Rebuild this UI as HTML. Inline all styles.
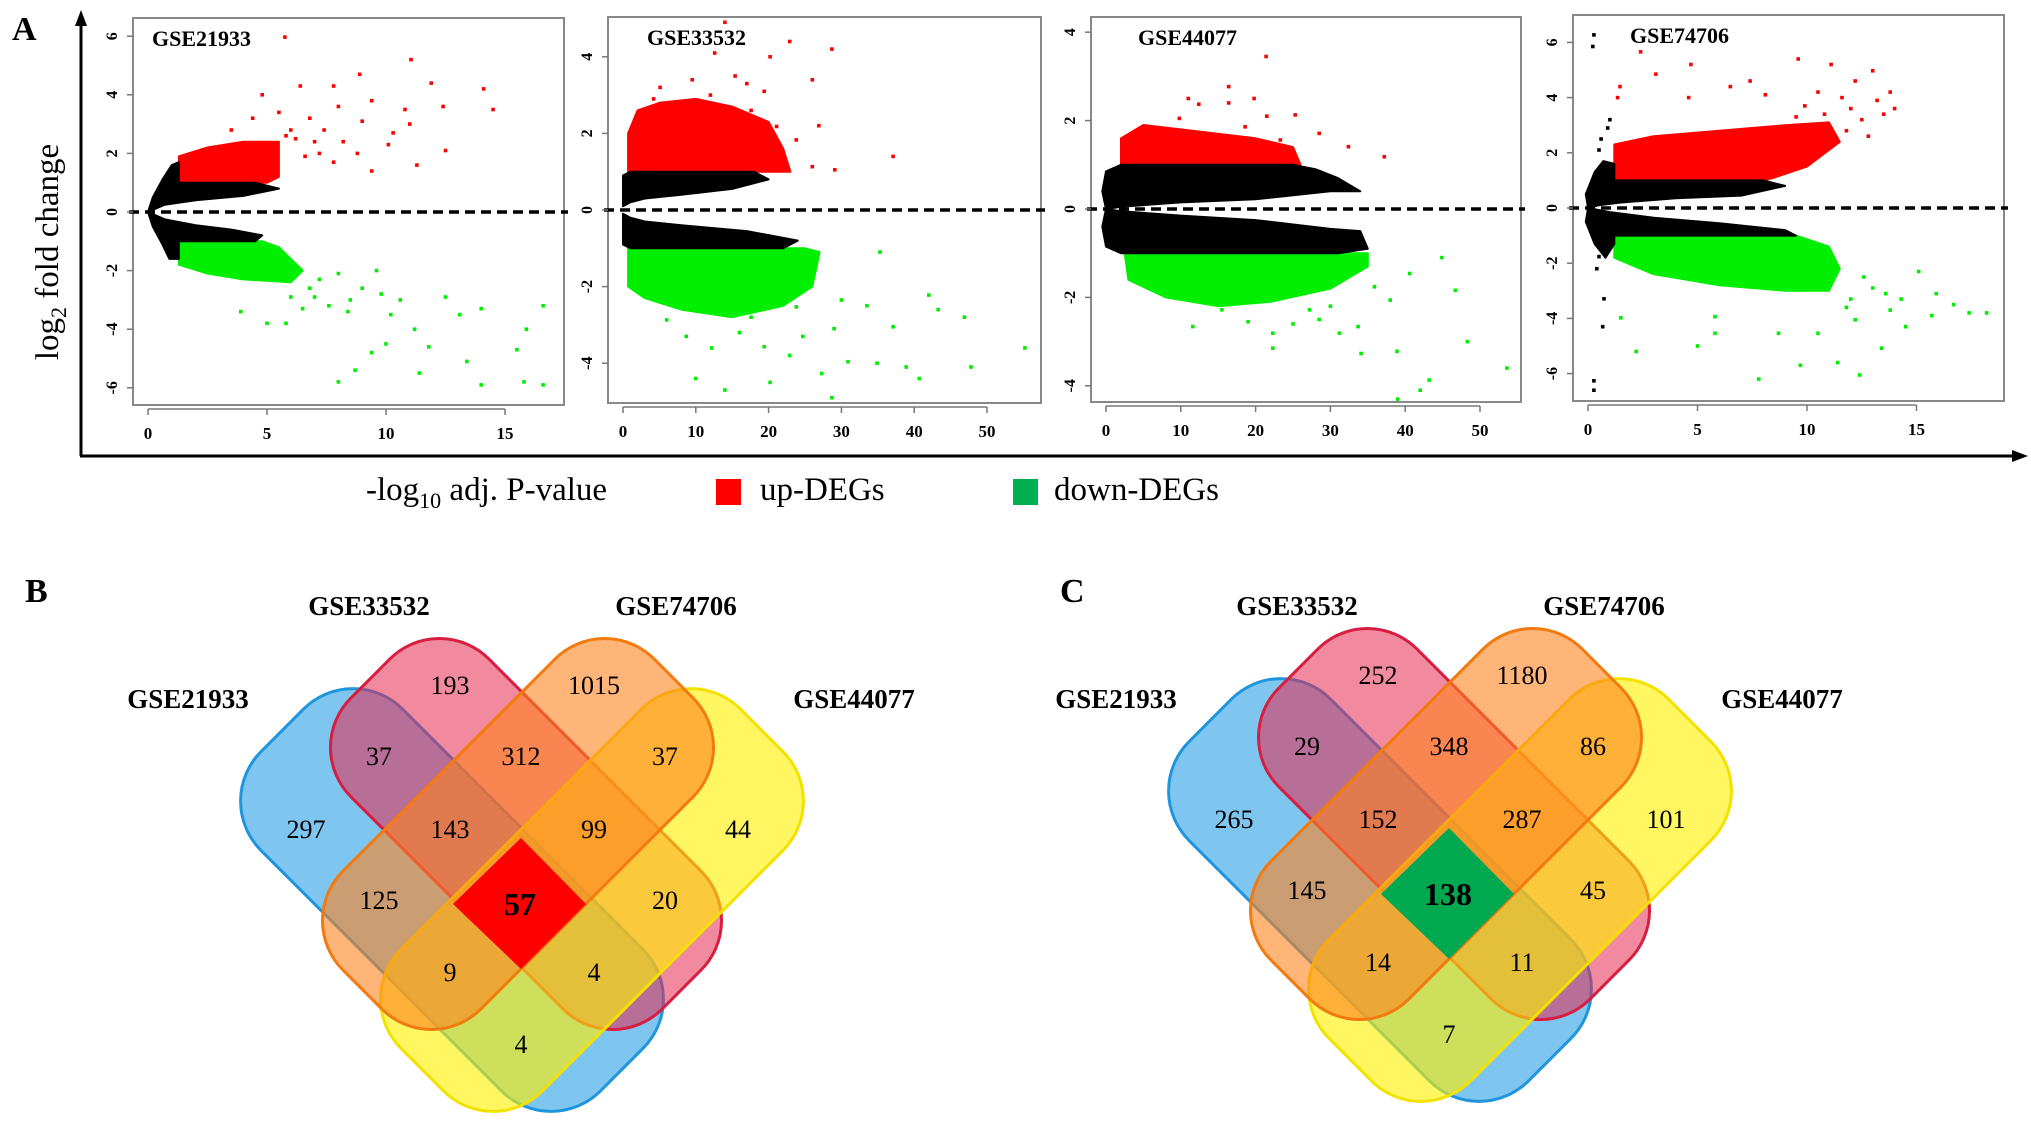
<!DOCTYPE html>
<html><head><meta charset="utf-8"><style>
html,body{margin:0;padding:0;background:#fff;}
svg{display:block;font-family:"Liberation Serif",serif;}
</style></head><body>
<svg id="fig" width="2031" height="1122" viewBox="0 0 2031 1122" xmlns="http://www.w3.org/2000/svg">
<g id="panelA">
<text x="12" y="40" font-size="34" font-weight="bold">A</text>
<line x1="81" y1="456" x2="81" y2="22" stroke="#000" stroke-width="3"/>
<polygon points="81,10 75,26 87,26" fill="#000"/>
<line x1="80" y1="456" x2="2015" y2="456" stroke="#000" stroke-width="3"/>
<polygon points="2028,456 2012,450 2012,462" fill="#000"/>
<text transform="translate(58,252) rotate(-90)" text-anchor="middle" font-size="33">log<tspan font-size="22" dy="8">2</tspan><tspan dy="-8"> fold change</tspan></text>
<text x="366" y="500" font-size="33">-log<tspan font-size="22" dy="8">10</tspan><tspan dy="-8"> adj. P-value</tspan></text>
<rect x="716" y="479" width="25" height="26" fill="#ff0000"/>
<text x="760" y="500" font-size="33">up-DEGs</text>
<rect x="1013" y="479" width="25" height="26" fill="#00b050"/>
<text x="1054" y="500" font-size="33">down-DEGs</text>
</g>
<g id="vennB"></g>
<g id="vennC"></g>
</svg>
<script>
// ---------- Volcano data (data coordinates: [-log10 adj P, log2 FC]) ----------
const p1Title = "GSE21933";
const p1XTicks = [0,5,10,15];
const p1YTicks = [-6,-4,-2,0,2,4,6];
const p1BlackUp = [[0,0],[0.2,0.5],[0.6,1.1],[1.0,1.6],[1.3,1.7],[1.3,1.0],[4.5,1.0],[5.5,0.8],[4,0.55],[2,0.4],[0.7,0.25]];
const p1BlackDown = [[0,0],[0.2,-0.5],[0.6,-1.1],[0.9,-1.6],[1.3,-1.6],[1.3,-1.0],[4.5,-1.0],[4.8,-0.8],[3.5,-0.6],[2,-0.45],[0.7,-0.25]];
const p1RedCloud = [[1.3,1],[1.3,1.9],[2.5,2.2],[4,2.4],[5.5,2.4],[5.5,1.2],[5,1]];
const p1GreenCloud = [[1.3,-1],[1.3,-1.8],[2.5,-2.1],[4,-2.3],[6,-2.4],[6.5,-2.0],[5.5,-1.2],[4.8,-1]];
const p1Red = [[5.75,5.97],[11.05,5.2],[8.9,4.7],[11.9,4.4],[14.1,4.2],[14.5,3.5],[6.4,4.3],[7.8,4.3],[4.8,4.0],[12.4,3.6],[12.5,2.1],[11.3,1.6],[9.4,3.8],[10.1,2.3],[10.3,2.7],[6.8,3.2],[4.4,3.2],[3.5,2.8],[8.2,2.4],[9.4,1.4],[10.8,3.5],[6.2,2.5],[7.4,2.8],[9,3.1],[8,3.6],[11,3],[7.2,2.0],[5.5,3.4],[6,2.8],[6.6,1.9],[7.8,1.7],[8.8,2.0],[5.8,2.6],[7,2.4]];
const p1Green = [[16.6,-3.2],[15.9,-4.0],[15.5,-4.7],[15.8,-5.8],[16.6,-5.9],[14.0,-5.9],[11.4,-5.5],[8.0,-5.8],[8.7,-5.4],[13.4,-5.1],[13.1,-3.5],[14.0,-3.3],[10.0,-4.5],[9.4,-4.8],[11.2,-4.0],[7.6,-3.2],[8.4,-3.4],[5.8,-3.8],[5.0,-3.8],[10.2,-3.5],[12.5,-2.9],[9.6,-2.0],[7.0,-2.9],[3.9,-3.4],[11.8,-4.6],[9,-2.6],[10.6,-3],[6.5,-3.3],[7.2,-2.3],[8,-2.1],[6.8,-2.6],[9.8,-2.8],[8.5,-3.0],[6,-2.9]];

const p2Title = "GSE33532";
const p2XTicks = [0,10,20,30,40,50];
const p2YTicks = [-4,-2,0,2,4];
const p2BlackUp = [[0,0.1],[0,0.9],[1,1.0],[18,1.0],[20,0.8],[15,0.55],[8,0.4],[3,0.3],[1,0.2]];
const p2BlackDown = [[0,-0.1],[0,-0.9],[1,-1.0],[22,-1.0],[24,-0.8],[17,-0.55],[8,-0.4],[3,-0.3],[1,-0.2]];
const p2RedCloud = [[0.7,1],[0.7,2.0],[2,2.6],[5,2.8],[10,2.9],[15,2.7],[20,2.3],[22,1.6],[23,1]];
const p2GreenCloud = [[0.7,-1],[0.7,-2],[3,-2.3],[8,-2.6],[15,-2.8],[22,-2.5],[26,-2],[27,-1.1],[25,-1]];
const p2Red = [[14,4.9],[28.7,4.2],[22.9,4.4],[20.2,4.0],[12.6,4.1],[26,3.4],[15.4,3.5],[5.1,3.2],[9.5,3.4],[37.1,1.4],[29.1,1.05],[26.9,2.2],[23.8,1.83],[19.4,3.1],[17.6,2.6],[4.2,2.9],[9.5,2.8],[21.1,2.18],[26,1.13],[12,3.0],[17,3.3]];
const p2Green = [[47.8,-4.1],[46.9,-2.8],[43.3,-2.6],[42,-2.22],[40.7,-4.4],[38.9,-4.1],[30.9,-3.96],[34.9,-4.0],[33.5,-2.5],[35.3,-1.1],[27.3,-4.27],[20.2,-4.5],[14,-4.7],[10,-4.4],[19.4,-3.57],[24.7,-3.3],[12.2,-3.6],[6,-2.87],[30,-2.35],[23.8,-2.53],[17.6,-2.8],[37.1,-3.05],[28.7,-4.9],[8.7,-3.3],[22.9,-3.8],[55.2,-3.6],[16,-3.2],[29,-3.1]];

const p3Title = "GSE44077";
const p3XTicks = [0,10,20,30,40,50];
const p3YTicks = [-4,-2,0,2,4];
const p3BlackUp = [[0,0],[-0.5,0.4],[0,0.85],[2,1],[25,1],[28,0.9],[31,0.7],[34,0.4],[30,0.4],[20,0.22],[10,0.15],[2,0.05]];
const p3BlackDown = [[0,0],[-0.5,-0.4],[0,-0.85],[2,-1],[31,-1],[35,-0.9],[34,-0.5],[30,-0.45],[20,-0.25],[10,-0.15],[2,-0.05]];
const p3RedCloud = [[2,1],[2,1.6],[5,1.9],[10,1.8],[15,1.7],[20,1.6],[25,1.4],[26,1]];
const p3GreenCloud = [[2.5,-1],[3,-1.6],[8,-2],[15,-2.2],[22,-2.1],[30,-1.8],[35,-1.3],[35,-1]];
const p3Red = [[21.4,3.45],[16.4,2.77],[11,2.5],[12.4,2.37],[25.3,2.13],[21.5,2.1],[9.8,2.05],[28.5,1.71],[32.4,1.41],[37.2,1.18],[18.6,1.86],[23.3,1.56],[16.4,2.4],[19.8,2.5],[13.8,1.48]];
const p3Green = [[53.6,-3.6],[48.3,-3.0],[43.2,-3.87],[42,-4.1],[39,-4.3],[46.7,-1.84],[44.9,-1.1],[38.9,-3.22],[34.1,-3.27],[31.2,-2.81],[22.3,-3.15],[22.3,-2.81],[11.6,-2.66],[15.5,-2.28],[27.2,-2.28],[33.7,-2.66],[40.6,-1.46],[38,-2.06],[35.9,-1.76],[28.5,-2.5],[8.6,-1.84],[19,-2.55],[25,-2.6],[30,-2.2]];

const p4Title = "GSE74706";
const p4XTicks = [0,5,10,15];
const p4YTicks = [-6,-4,-2,0,2,4,6];
const p4BlackUp = [[0,0],[-0.1,0.5],[0.3,1.3],[0.7,1.7],[1.2,1.6],[1.2,1],[8,1],[9,0.8],[7,0.45],[4,0.35],[1.5,0.2],[0.5,0.1]];
const p4BlackDown = [[0,0],[-0.1,-0.5],[0.3,-1.3],[0.8,-1.8],[1.2,-1.3],[1.2,-1],[9.5,-1],[9,-0.8],[6,-0.55],[3,-0.35],[1,-0.15]];
const p4RedCloud = [[1.2,1],[1.2,2.3],[3,2.6],[6,2.8],[9,3.0],[11,3.1],[11.5,2.4],[10,1.5],[8.5,1.1],[8,1]];
const p4GreenCloud = [[1.2,-1],[1.2,-1.8],[3,-2.4],[6,-2.8],[9,-3.0],[11,-3.0],[11.5,-2.2],[11,-1.4],[9.5,-1]];
const p4Black = [[0.27,6.27],[0.22,5.85],[1.0,3.2],[0.9,2.9],[0.6,2.5],[0.5,2.1],[0.27,-6.26],[0.27,-6.6],[0.73,-3.29],[0.67,-4.3],[0.5,-1.76],[0.4,-2.2]];
const p4Red = [[2.4,5.66],[4.7,5.2],[3.1,4.85],[9.6,5.4],[11.1,5.2],[13,4.97],[14,3.6],[13.8,4.2],[12.2,4.6],[7.4,4.6],[6.5,4.4],[9.9,3.7],[8.1,4.1],[4.6,4.0],[11.6,4.0],[1.46,4.4],[1.35,4.0],[10.5,4.2],[12.5,3.2],[12,3.6],[13.2,3.9],[11.8,2.8],[10.8,3.4],[12.8,2.6],[9.5,3.3],[13.5,3.4]];
const p4Green = [[18.2,-3.8],[17.4,-3.8],[16.7,-3.5],[15.7,-3.9],[15.9,-3.1],[15.1,-2.3],[7.8,-6.2],[9.7,-5.7],[11.4,-5.6],[12.4,-6.05],[13.4,-5.08],[2.2,-5.2],[5,-5.0],[1.5,-3.98],[5.8,-4.54],[10.5,-4.54],[8.7,-4.54],[14.3,-3.3],[5.8,-3.94],[12.2,-4.05],[14.5,-4.3],[13.8,-3.7],[12,-3.3],[13,-2.9],[11.8,-3.6],[12.6,-2.5],[13.6,-3.1]];

// ---------- Venn data ----------
const vennSets = ["GSE21933","GSE33532","GSE74706","GSE44077"];
const vennBCounts = ["193","1015","37","312","37","297","143","99","44","125","57","20","9","4","4"];
const vennCCounts = ["252","1180","29","348","86","265","152","287","101","145","138","45","14","11","7"];

const NS = "http://www.w3.org/2000/svg";
const fig = document.getElementById("fig");
function mk(tag, attrs, parent){
  const e = document.createElementNS(NS, tag);
  for (const k in attrs) e.setAttribute(k, attrs[k]);
  (parent||fig).appendChild(e);
  return e;
}

function volcano(cfg){
  const g = mk("g", {});
  
  
  const sx = d => cfg.x0 + d * cfg.xu;
  const sy = d => cfg.y0 - d * cfg.yu;
  const box = mk("rect", {x:cfg.bx1, y:cfg.by1, width:cfg.bx2-cfg.bx1, height:cfg.by2-cfg.by1, fill:"none", stroke:"#888", "stroke-width":2}, g);
  
  
  const clipId = "clip" + cfg.title;
  const cp = mk("clipPath", {id:clipId}, g);
  mk("rect", {x:cfg.bx1, y:cfg.by1, width:cfg.bx2-cfg.bx1, height:cfg.by2-cfg.by1}, cp);
  const inner = mk("g", {"clip-path":"url(#"+clipId+")"}, g);
  const poly = (pts, color, name) => {
    const p = mk("polygon", {points: pts.map(q => sx(q[0]).toFixed(1)+","+sy(q[1]).toFixed(1)).join(" "), fill:color, stroke:color, "stroke-width":2, "stroke-linejoin":"round"}, inner);
    
    
  };
  poly(cfg.redCloud, "#ff0000", "up-deg-cloud");
  poly(cfg.greenCloud, "#00ee00", "down-deg-cloud");
  poly(cfg.blackUp, "#000", "nonsig-cloud-up");
  poly(cfg.blackDown, "#000", "nonsig-cloud-down");
  const dots = (pts, color, name) => pts.forEach(q => {
    const c = mk("rect", {x:(sx(q[0])-1.8).toFixed(1), y:(sy(q[1])-1.8).toFixed(1), width:3.6, height:3.6, fill:color}, inner);
    
    
  });
  dots(cfg.red, "#ff0000", "up-deg-point");
  dots(cfg.green, "#00ee00", "down-deg-point");
  if (cfg.black) dots(cfg.black, "#000", "nonsig-point");
  const dash = mk("line", {x1:cfg.bx1-4, x2:cfg.bx2+4, y1:sy(0), y2:sy(0), stroke:"#000", "stroke-width":3.5, "stroke-dasharray":"10 6"}, g);
  
  
  cfg.yTicks.forEach(t => {
    if (sy(t) < cfg.by1 - 2 || sy(t) > cfg.by2 + 2) return;
    mk("line", {x1:cfg.bx1, x2:cfg.bx1-6, y1:sy(t), y2:sy(t), stroke:"#777", "stroke-width":1.5}, g);
    const tl = mk("text", {transform:"translate("+(cfg.bx1-16)+","+sy(t)+") rotate(-90)", "text-anchor":"middle", "font-size":16, "font-weight":"bold"}, g);
    tl.textContent = t;
    
    
  });
  const xt = cfg.xTicks;
  mk("line", {x1:sx(xt[0]), x2:sx(xt[xt.length-1]), y1:cfg.by2+4, y2:cfg.by2+4, stroke:"#777", "stroke-width":1.5}, g);
  xt.forEach(t => {
    mk("line", {x1:sx(t), x2:sx(t), y1:cfg.by2+4, y2:cfg.by2+10, stroke:"#777", "stroke-width":1.5}, g);
    const tl = mk("text", {x:sx(t), y:cfg.by2+34, "text-anchor":"middle", "font-size":17, "font-weight":"bold"}, g);
    tl.textContent = t;
    
    
  });
  const tt = mk("text", {x:cfg.tx, y:cfg.by1+28, "font-size":22, "font-weight":"bold"}, g);
  tt.textContent = cfg.title;
  
  
}

volcano({title:p1Title, xTicks:p1XTicks, yTicks:p1YTicks, blackUp:p1BlackUp, blackDown:p1BlackDown, redCloud:p1RedCloud, greenCloud:p1GreenCloud, red:p1Red, green:p1Green,
  bx1:133, bx2:564, by1:18, by2:405, x0:148, xu:23.8, y0:212, yu:29.3, tx:152});
volcano({title:p2Title, xTicks:p2XTicks, yTicks:p2YTicks, blackUp:p2BlackUp, blackDown:p2BlackDown, redCloud:p2RedCloud, greenCloud:p2GreenCloud, red:p2Red, green:p2Green,
  bx1:608, bx2:1041, by1:17, by2:403, x0:623, xu:7.28, y0:210, yu:38.3, tx:647});
volcano({title:p3Title, xTicks:p3XTicks, yTicks:p3YTicks, blackUp:p3BlackUp, blackDown:p3BlackDown, redCloud:p3RedCloud, greenCloud:p3GreenCloud, red:p3Red, green:p3Green,
  bx1:1091, bx2:1521, by1:17, by2:402, x0:1106, xu:7.48, y0:209, yu:44.2, tx:1138});
volcano({title:p4Title, xTicks:p4XTicks, yTicks:p4YTicks, blackUp:p4BlackUp, blackDown:p4BlackDown, redCloud:p4RedCloud, greenCloud:p4GreenCloud, red:p4Red, green:p4Green, black:p4Black,
  bx1:1573, bx2:2004, by1:15, by2:401, x0:1588, xu:21.9, y0:208, yu:27.6, tx:1630});

// ---------- Venn ----------
function venn(gid, dx, dy, counts, letter, centerColor){
  const g = document.getElementById(gid);
  const L = mk("text", {x:25+ (letter==="C"?1035:0), y:602, "font-size":34, "font-weight":"bold"}, g);
  L.textContent = letter;
  
  
  const shapes = [
    {cx:452, cy:900, Lw:480, W:200, rot:45, fill:"rgba(40,160,230,0.6)", stroke:"#1f95dc", name:"set-gse21933"},
    {cx:526, cy:834, Lw:440, W:195, rot:45, fill:"rgba(230,40,80,0.55)", stroke:"#d81e40", name:"set-gse33532"},
    {cx:592, cy:900, Lw:480, W:200, rot:-45, fill:"rgba(255,240,0,0.62)", stroke:"#f3e200", name:"set-gse44077"},
    {cx:518, cy:834, Lw:440, W:195, rot:-45, fill:"rgba(255,130,30,0.6)", stroke:"#f27a10", name:"set-gse74706"}
  ];
  shapes.forEach(s => {
    const cx = s.cx+dx, cy = s.cy+dy;
    const r = mk("rect", {x:cx-s.Lw/2, y:cy-s.W/2, width:s.Lw, height:s.W, rx:70, ry:70, fill:s.fill, stroke:s.stroke, "stroke-width":3, transform:"rotate("+s.rot+" "+cx+" "+cy+")"}, g);
    
    
  });
  const dm = mk("polygon", {points:[[521,838],[586,904],[521,969],[453,904]].map(p => (p[0]+dx)+","+(p[1]+dy)).join(" "), fill:centerColor}, g);
  
  
  const pos = [[450,685],[594,685],[379,756],[521,756],[665,756],[306,829],[450,829],[594,829],[738,829],[379,900],[520,906],[665,900],[450,972],[594,972],[521,1044]];
  pos.forEach((p,i) => {
    const big = (i===10);
    const t = mk("text", {x:p[0]+dx, y:p[1]+dy+9, "text-anchor":"middle", "font-size":big?32:26, "font-weight":big?"bold":"normal"}, g);
    t.textContent = counts[i];
    
    
  });
  const lp = [[188,708],[369,615],[676,615],[854,708]];
  vennSets.forEach((s,i) => {
    const t = mk("text", {x:lp[i][0]+dx, y:lp[i][1], "text-anchor":"middle", "font-size":27, "font-weight":"bold"}, g);
    t.textContent = s;
    
    
  });
}
venn("vennB", 0, 0, vennBCounts, "B", "#ff0000");
venn("vennC", 928, -10, vennCCounts, "C", "#00a84f");
</script>
</body></html>
